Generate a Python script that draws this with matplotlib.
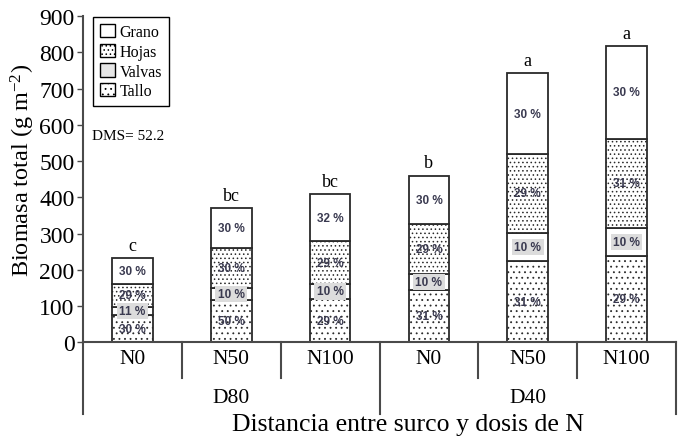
import numpy as np
import matplotlib
matplotlib.use("Agg")
import matplotlib.pyplot as plt
from matplotlib.patches import Patch

plt.rcParams['font.family'] = ['Liberation Serif', 'DejaVu Serif']
plt.rcParams['mathtext.default'] = 'regular'
plt.rcParams['hatch.linewidth'] = 0.6

dosis = ["N0", "N50", "N100", "N0", "N50", "N100"]
distancias = ["D80", "D40"]

tallo = [74, 117, 120, 143, 224, 238]
valvas = [24, 32, 41, 46, 77, 78]
hojas = [63, 111, 118, 136, 219, 245]
grano = [72, 110, 130, 135, 222, 257]

pct_tallo = ["30 %", "50 %", "29 %", "31 %", "31 %", "29 %"]
pct_valvas = ["11 %", "10 %", "10 %", "10 %", "10 %", "10 %"]
pct_hojas = ["29 %", "30 %", "29 %", "29 %", "29 %", "31 %"]
pct_grano = ["30 %", "30 %", "32 %", "30 %", "30 %", "30 %"]

letras = ["c", "bc", "bc", "b", "a", "a"]

fig = plt.figure(figsize=(6.83, 4.39), dpi=100)
ax = fig.add_axes([83/683, 1 - 343.3/439, 593/683, 326.3/439])

x = np.arange(len(dosis))
w = 0.41
ec = '#2a2a2a'

capas = [
    ("Tallo", tallo, pct_tallo, '...', 'white'),
    ("Valvas", valvas, pct_valvas, '', 'white'),
    ("Hojas", hojas, pct_hojas, '....', 'white'),
    ("Grano", grano, pct_grano, '', 'white'),
]

base = np.zeros(len(x))
for nombre, vals, pcts, hatch, fc in capas:
    vals = np.array(vals, dtype=float)
    ax.bar(x, vals, w, bottom=base, color=fc, edgecolor=ec, hatch=hatch,
           linewidth=1.3, zorder=2)
    for xi, b, v, p in zip(x, base, vals, pcts):
        bbox = dict(boxstyle='square,pad=0.2', fc='#dcdcdc', ec='none') \
            if nombre == "Valvas" else None
        ax.text(xi, b + v / 2, p, ha='center', va='center', fontsize=8.5,
                fontweight='bold', color='#3a3a50', family='Liberation Sans',
                bbox=bbox, zorder=3)
    base = base + vals

for xi, tot, l in zip(x, base, letras):
    ax.annotate(l, (xi, tot), xytext=(0, 3), textcoords='offset points',
                ha='center', va='bottom', fontsize=13)

ax.set_xlim(-0.5, 5.5)
ax.set_ylim(0, 900)
ax.set_yticks(np.arange(0, 901, 100))
ax.tick_params(axis='y', labelsize=17, length=4, width=1, color='#4a4a4a', pad=2)
ax.set_xticks(x)
ax.set_xticklabels(dosis, fontsize=15.5)
ax.tick_params(axis='x', length=0, pad=5)
for s in ['top', 'right']:
    ax.spines[s].set_visible(False)
for s in ['left', 'bottom']:
    ax.spines[s].set_color('#4a4a4a')
    ax.spines[s].set_linewidth(1.5)

tr = ax.get_xaxis_transform()
for xs in [0.5, 1.5, 3.5, 4.5]:
    ax.plot([xs, xs], [0, -0.109], transform=tr, color='#4a4a4a', lw=1.5,
            clip_on=False)
for xs in [-0.5, 2.5, 5.5]:
    ax.plot([xs, xs], [0, -0.22], transform=tr, color='#4a4a4a', lw=1.5,
            clip_on=False)
for xc, d in zip([1, 4], distancias):
    ax.text(xc, -0.168, d, transform=tr, ha='center', va='center', fontsize=15.5)

ax.text(0.548, -0.25, "Distancia entre surco y dosis de N", transform=ax.transAxes,
        ha='center', va='center', fontsize=18.5)
ax.set_ylabel("Biomasa total (g m$^{-2}$)", fontsize=17.5)
ax.yaxis.set_label_coords(-0.077, 0.531)

handles = [
    Patch(fc='white', ec='black', label='Grano'),
    Patch(fc='white', ec='black', hatch='....', label='Hojas'),
    Patch(fc='#e6e6e6', ec='black', label='Valvas'),
    Patch(fc='white', ec='black', hatch='...', label='Tallo'),
]
leg = ax.legend(handles=handles, loc='upper left', bbox_to_anchor=(0.017, 0.997),
                borderaxespad=0, fontsize=11.5, fancybox=False, edgecolor='black',
                framealpha=1, handlelength=0.9, handleheight=0.9,
                handletextpad=0.3, labelspacing=0.22, borderpad=0.45)
leg.get_frame().set_linewidth(1.0)

ax.text(0.0152, 0.635, "DMS= 52.2", transform=ax.transAxes, ha='left',
        va='center', fontsize=11)

fig.savefig("out.png", dpi=100)
